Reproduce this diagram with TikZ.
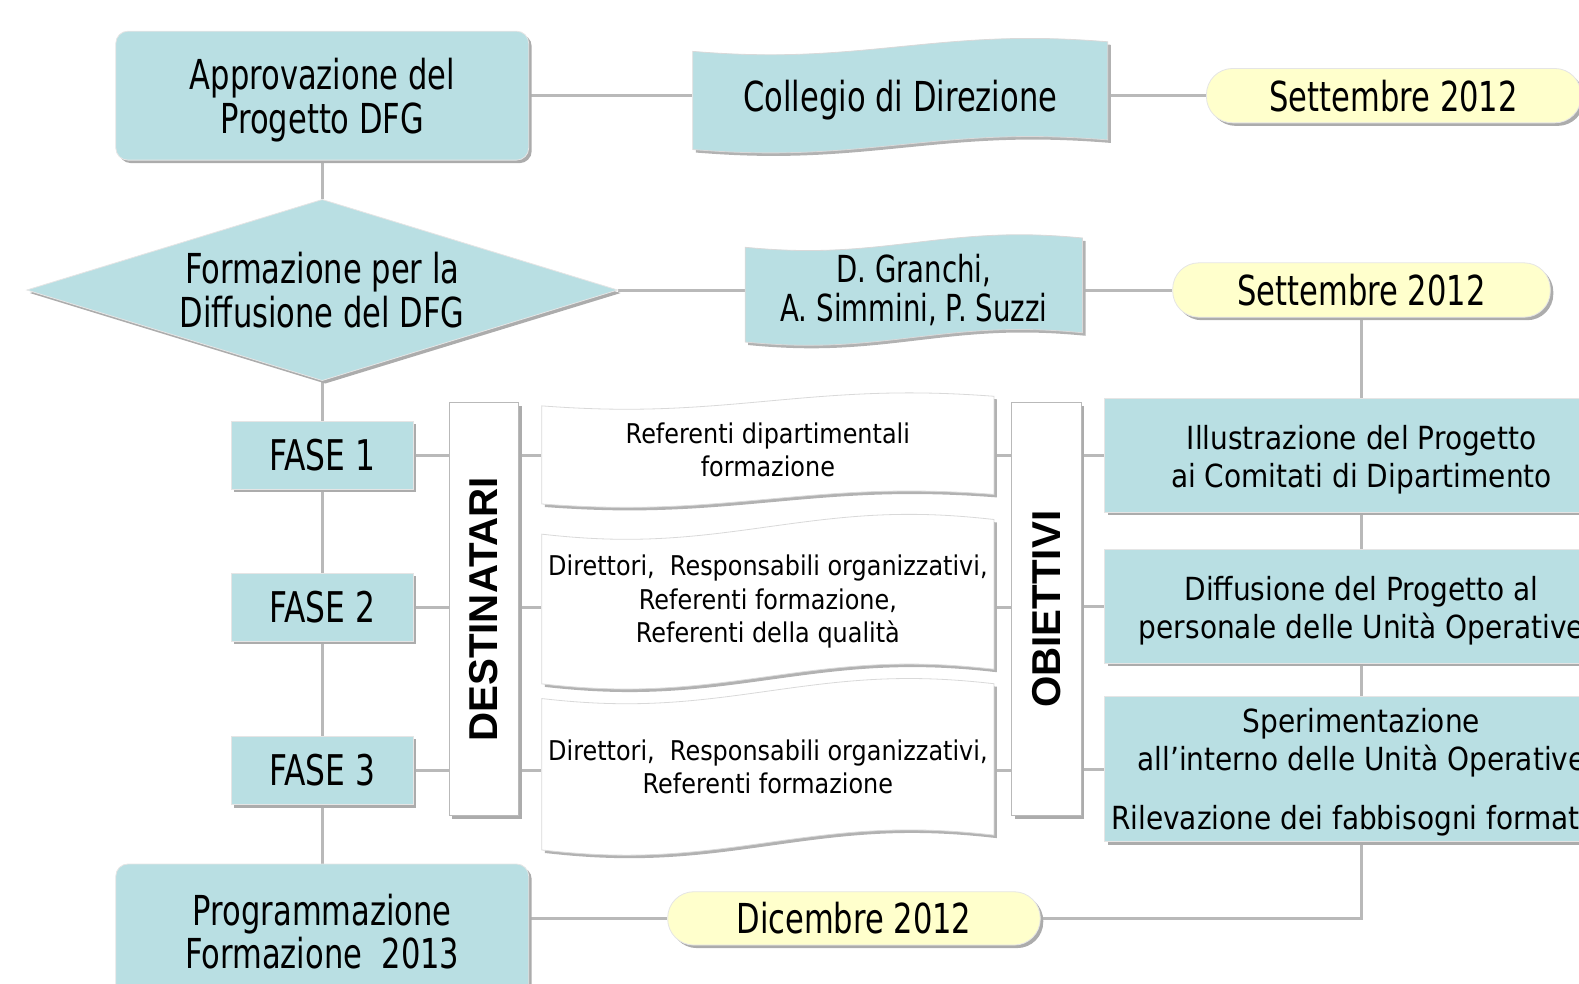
\documentclass[tikz,border=0pt]{standalone}
\usepackage{fontspec}
\usepackage{graphicx}
\newfontfamily\narrowfont{DejaVu Sans}[FakeStretch=0.74]
\newfontfamily\boxfont{DejaVu Sans}[FakeStretch=0.88]
\newfontfamily\labelfont{Liberation Sans}
\usetikzlibrary{shapes.geometric}
\usetikzlibrary{positioning}
\usetikzlibrary{shadows}

\definecolor{boxblue}{RGB}{185,223,227}
\definecolor{dateyellow}{RGB}{255,255,204}

\pgfdeclarelayer{background}
\pgfsetlayers{background,main}

% punched tape between (x0,y0) and (x1,y1), with fill colour
\newcommand{\tape}[5]{%
  \fill[gray!60,shift={(3,3)}]
    plot[domain=#1:#3,samples=41,smooth] (\x,{#2+0.08*(#4-#2)+0.07*(#4-#2)*sin(36+288/(#3-#1)*(\x-#1))})
    -- plot[domain=#3:#1,samples=41,smooth] (\x,{#4-0.08*(#4-#2)+0.07*(#4-#2)*sin(36+288/(#3-#1)*(\x-#1))}) -- cycle;
  \filldraw[fill=#5,draw=gray!30]
    plot[domain=#1:#3,samples=41,smooth] (\x,{#2+0.08*(#4-#2)+0.07*(#4-#2)*sin(36+288/(#3-#1)*(\x-#1))})
    -- plot[domain=#3:#1,samples=41,smooth] (\x,{#4-0.08*(#4-#2)+0.07*(#4-#2)*sin(36+288/(#3-#1)*(\x-#1))}) -- cycle;}
% taller first line, pushes the text down a little
\newcommand{\lift}[1]{\rule{0pt}{#1}}

\begin{document}
\begin{tikzpicture}[x=0.5pt,y=-0.5pt,
    conn/.style={draw=gray!55,line width=1.5pt},
    blue box/.style={rectangle,fill=boxblue,draw=gray!20,inner sep=0pt,align=center,
      drop shadow={shadow xshift=1.5pt,shadow yshift=-1.5pt,fill=gray!65,opacity=1},
      font=\narrowfont\fontsize{20.5}{21.5}\selectfont},
    round box/.style={blue box,rounded corners=6pt,minimum width=205pt},
    dia node/.style={blue box,diamond,shape aspect=3.26,minimum width=293.5pt,minimum height=90pt},
    date node/.style={blue box,fill=dateyellow,rounded corners=13pt,minimum width=186pt,minimum height=27pt},
    tape node/.style={rectangle,inner sep=0pt,align=center,font=\narrowfont\fontsize{20.5}{19}\selectfont},
    doc node/.style={tape node,minimum width=224.5pt,font=\boxfont\fontsize{13.5}{16.5}\selectfont},
    fase node/.style={blue box,minimum width=90.5pt,minimum height=34pt,font=\narrowfont\fontsize{21}{21}\selectfont},
    side node/.style={rectangle,fill=white,draw=gray!55,inner sep=0pt,minimum width=34.5pt,minimum height=205pt,
      drop shadow={shadow xshift=1.5pt,shadow yshift=-1.5pt,fill=gray!65,opacity=1},
      font=\labelfont\bfseries\fontsize{20}{20}\selectfont},
    goal node/.style={blue box,minimum width=255pt,font=\boxfont\fontsize{15.8}{19}\selectfont}
    ]
    \useasboundingbox (0,0) rectangle (1568,977);

    % wavy shapes behind their nodes
    \tape{688}{37}{1100}{153}{boxblue}
    \tape{740}{232}{1075}{344}{boxblue}
    \tape{538}{389}{987}{505}{white}
    \tape{538}{509}{987}{686}{white}
    \tape{538}{672}{987}{851}{white}

    \node[round box,minimum height=64pt](appr) at (320,95){\lift{20pt}Approvazione del\\Progetto DFG};
    \node[tape node,minimum width=206pt,minimum height=58pt](coll) at (894,95){\lift{19.5pt}Collegio di Direzione};
    \node[date node](sett1) at (1384,95){Settembre 2012};

    \node[dia node](formaz) at (320,288){Formazione per la\\Diffusione del DFG};
    \node[tape node,minimum width=167.5pt,minimum height=56pt,font=\narrowfont\fontsize{18.5}{19}\selectfont](granchi) at (907.5,288){D. Granchi,\\A. Simmini, P. Suzzi};
    \node[date node,minimum width=187.5pt](sett2) at (1352,288){Settembre 2012};

    \node[fase node](fase1) at (320,452){FASE 1};
    \node[fase node](fase2) at (320,603){FASE 2};
    \node[fase node](fase3) at (320,765){FASE 3};

    \node[side node](dest) at (480.5,605){\rotatebox{90}{DESTINATARI}};
    \node[side node](obj) at (1039,605){\rotatebox{90}{OBIETTIVI}};

    \node[doc node,minimum height=58pt](doc1) at (762.5,447){Referenti dipartimentali\\formazione};
    \node[doc node,minimum height=88.5pt](doc2) at (762.5,597.5){Direttori,\ \ Responsabili organizzativi,\\Referenti formazione,\\Referenti della qualità};
    \node[doc node,minimum height=89.5pt](doc3) at (762.5,761.5){Direttori,\ \ Responsabili organizzativi,\\Referenti formazione};

    \node[goal node,minimum height=56.5pt](illus) at (1352,452){\lift{16.5pt}Illustrazione del Progetto\\ai Comitati di Dipartimento};
    \node[goal node,minimum height=56.5pt](diffus) at (1352,602){\lift{16.5pt}Diffusione del Progetto al\\personale delle Unità Operative};
    \node[goal node,minimum height=72pt](sperim) at (1352,764){\lift{15pt}Sperimentazione\\all’interno delle Unità Operative\\[10.5pt]Rilevazione dei fabbisogni formativi};

    \node[round box,minimum height=67pt](progr) at (320,925){Programmazione\\Formazione\ \ 2013};
    \node[date node,minimum width=185pt,minimum height=26.5pt](dic) at (848,912){Dicembre 2012};

    \begin{pgfonlayer}{background}
    \path[conn]
    (appr) edge (coll)
    (coll) edge (sett1)
    (appr) edge (formaz)
    (formaz) edge (granchi)
    (granchi) edge (sett2)
    (formaz) edge (progr)
    (progr.east |- dic) edge (dic)
    (fase1) edge (dest.west |- fase1)
    (fase2) edge (dest.west |- fase2)
    (fase3) edge (dest.west |- fase3)
    (dest.east |- fase1) edge (doc1.west |- fase1)
    (dest.east |- fase2) edge (doc2.west |- fase2)
    (dest.east |- fase3) edge (doc3.west |- fase3)
    (doc1.east |- fase1) edge (obj.west |- fase1)
    (doc2.east |- fase2) edge (obj.west |- fase2)
    (doc3.east |- fase3) edge (obj.west |- fase3)
    (obj.east |- illus) edge (illus)
    (obj.east |- diffus) edge (diffus)
    (obj.east |- sperim) edge (sperim);
    \draw[conn] (sett2.south) |- (dic.east);
    \end{pgfonlayer}
  \end{tikzpicture}
\end{document}
